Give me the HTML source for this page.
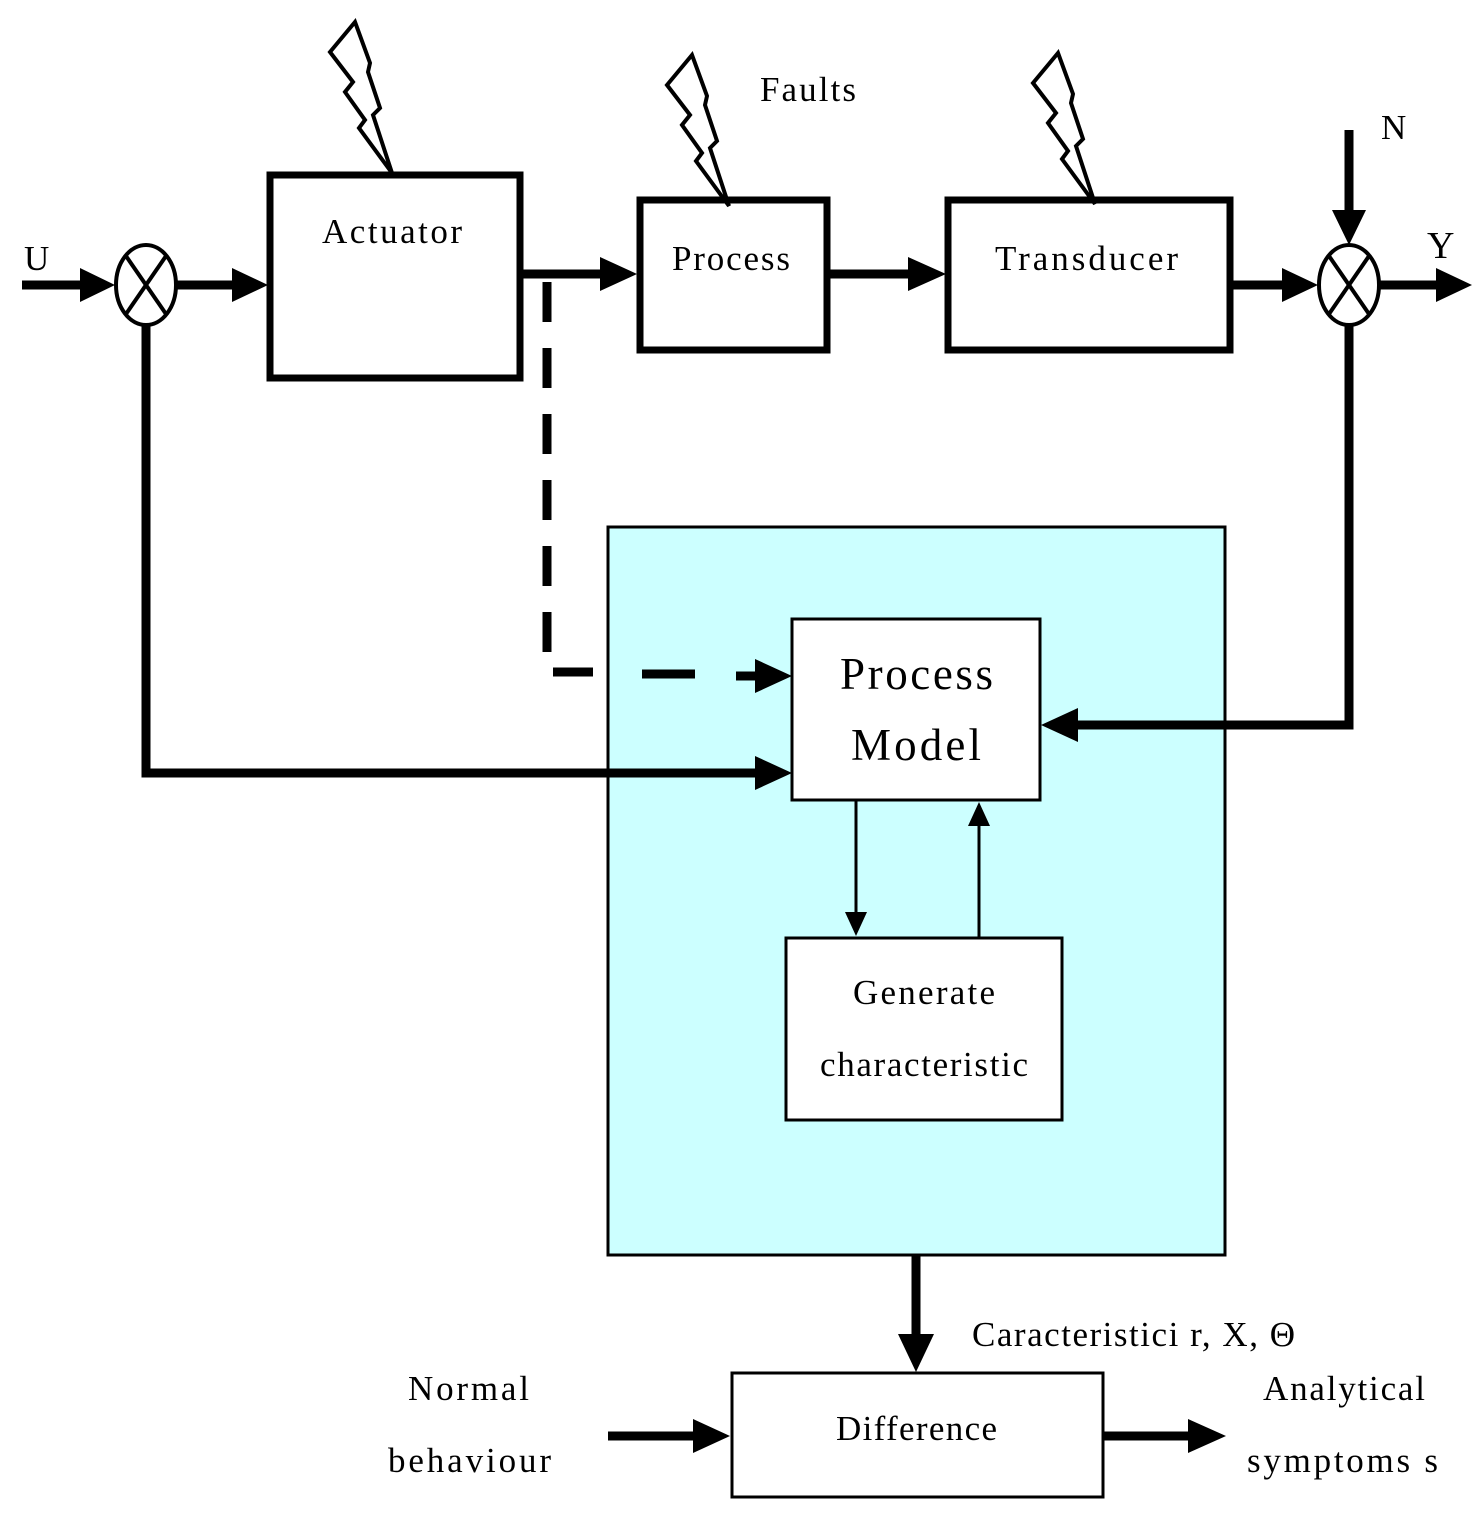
<!DOCTYPE html>
<html><head><style>body{margin:0;background:#fff}svg{display:block}text{font-family:"Liberation Serif",serif;fill:#000}</style></head><body>
<svg width="1483" height="1533" viewBox="0 0 1483 1533">
<defs>
<path id="bolt" d="M0,0 L-25,30 L-2,60 L-10,70 L10,98 L4,106 L37,151 L18,93 L25,86 L13,50 L15,41 Z" fill="#fff" stroke="#000" stroke-width="4" stroke-linejoin="miter"/>
</defs>
<rect x="608" y="527" width="617" height="728" fill="#ccffff" stroke="#000" stroke-width="3"/>
<g fill="none" stroke="#000" stroke-width="7">
<rect x="270" y="175" width="250" height="203"/>
<rect x="640" y="200" width="187" height="150"/>
<rect x="948" y="200" width="282" height="150"/>
</g>
<g fill="#fff" stroke="#000" stroke-width="3">
<rect x="792" y="619" width="248" height="181"/>
<rect x="786" y="938" width="276" height="182"/>
<rect x="732" y="1373" width="371" height="124"/>
</g>
<use href="#bolt" x="355" y="22"/>
<use href="#bolt" x="692" y="55"/>
<use href="#bolt" x="1058" y="53"/>
<g stroke="#000" stroke-width="9" fill="none">
<line x1="22" y1="285" x2="85" y2="285"/>
<line x1="176" y1="285" x2="235" y2="285"/>
<line x1="520" y1="274" x2="605" y2="274"/>
<line x1="827" y1="274" x2="912" y2="274"/>
<line x1="1230" y1="285" x2="1285" y2="285"/>
<line x1="1380" y1="285" x2="1440" y2="285"/>
<line x1="1349" y1="130" x2="1349" y2="215"/>
<polyline points="146,325 146,773 758,773"/>
<polyline points="1349,325 1349,725 1075,725"/>
<line x1="916" y1="1255" x2="916" y2="1340"/>
<line x1="608" y1="1436" x2="698" y2="1436"/>
<line x1="1103" y1="1436" x2="1190" y2="1436"/>
<polyline points="547,282 547,672 600,672" stroke-dasharray="40,26"/>
<line x1="642" y1="674" x2="695" y2="674"/>
<line x1="736" y1="676" x2="760" y2="676"/>
</g>
<g fill="#000">
<polygon points="80,268 115,285 80,302"/>
<polygon points="232,268 268,285 232,302"/>
<polygon points="600,257 637,274 600,291"/>
<polygon points="908,257 946,274 908,291"/>
<polygon points="1282,268 1318,285 1282,302"/>
<polygon points="1436,268 1472,285 1436,302"/>
<polygon points="1332,210 1349,245 1366,210"/>
<polygon points="755,756 792,773 755,790"/>
<polygon points="755,659 792,676 755,693"/>
<polygon points="1078,708 1041,725 1078,742"/>
<polygon points="898,1334 916,1372 934,1334"/>
<polygon points="693,1419 730,1436 693,1453"/>
<polygon points="1188,1419 1226,1436 1188,1453"/>
<polygon points="845,912 856,936 867,912"/>
<polygon points="968,826 979,802 990,826"/>
</g>
<g stroke="#000" stroke-width="3">
<line x1="856" y1="800" x2="856" y2="915"/>
<line x1="979" y1="822" x2="979" y2="938"/>
</g>
<g fill="#fff" stroke="#000" stroke-width="4">
<ellipse cx="146" cy="285" rx="30" ry="40"/>
<ellipse cx="1349" cy="285" rx="30" ry="40"/>
</g>
<g stroke="#000" stroke-width="4">
<line x1="126" y1="256" x2="166" y2="314"/><line x1="166" y1="256" x2="126" y2="314"/>
<line x1="1329" y1="256" x2="1369" y2="314"/><line x1="1369" y1="256" x2="1329" y2="314"/>
</g>
<g font-size="35">
<text x="24" y="270">U</text>
<text x="322" y="243" textLength="140" lengthAdjust="spacing">Actuator</text>
<text x="672" y="270" textLength="118" lengthAdjust="spacing">Process</text>
<text x="995" y="270" textLength="183" lengthAdjust="spacing">Transducer</text>
<text x="760" y="101" textLength="96" lengthAdjust="spacing">Faults</text>
<text x="1381" y="139">N</text>
<text x="1427" y="258" font-size="38">Y</text>
<text x="840" y="689" font-size="45" textLength="153" lengthAdjust="spacing">Process</text>
<text x="851" y="760" font-size="45" textLength="130" lengthAdjust="spacing">Model</text>
<text x="853" y="1004" textLength="142" lengthAdjust="spacing">Generate</text>
<text x="820" y="1076" textLength="208" lengthAdjust="spacing">characteristic</text>
<text x="836" y="1440" textLength="161" lengthAdjust="spacing">Difference</text>
<text x="408" y="1400" textLength="121" lengthAdjust="spacing">Normal</text>
<text x="388" y="1472" textLength="163" lengthAdjust="spacing">behaviour</text>
<text x="1263" y="1400" textLength="162" lengthAdjust="spacing">Analytical</text>
<text x="1247" y="1472" textLength="191" lengthAdjust="spacing">symptoms s</text>
<text x="972" y="1346" textLength="323" lengthAdjust="spacing">Caracteristici r, X, Θ</text>
</g>
</svg>
</body></html>
